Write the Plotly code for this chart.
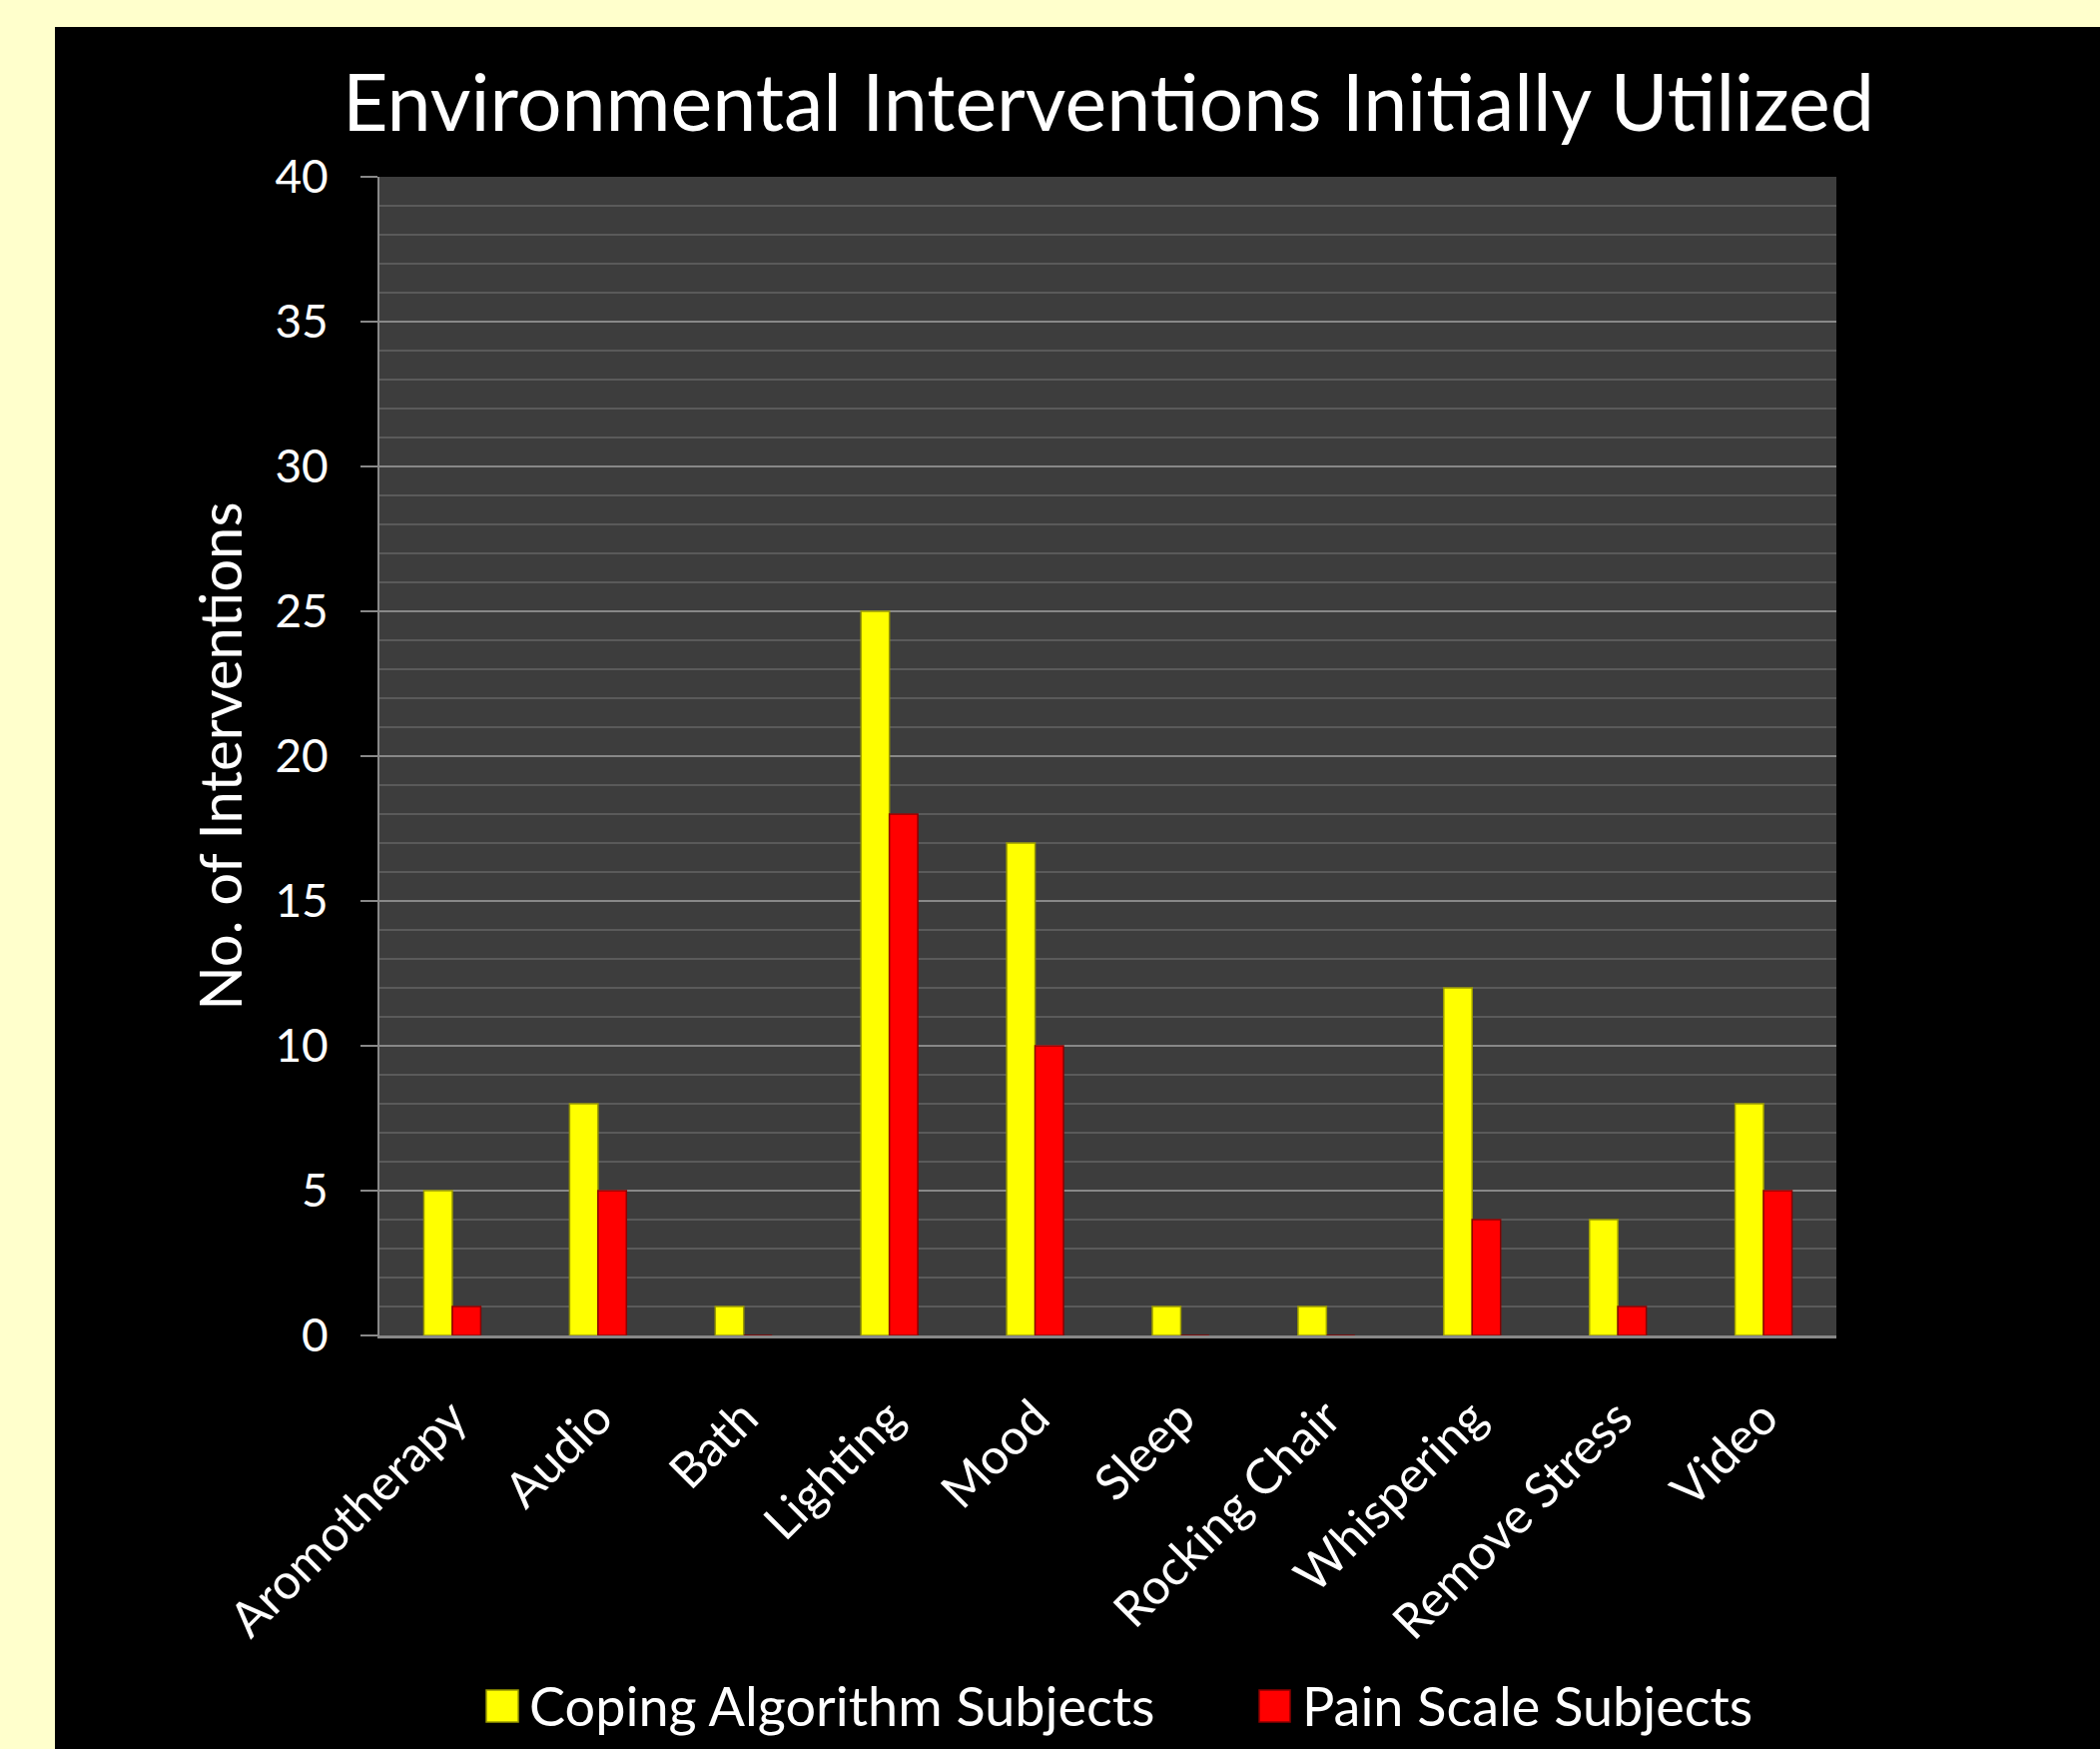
import plotly.graph_objects as go

categories = ["Aromotherapy", "Audio", "Bath", "Lighting", "Mood", "Sleep",
              "Rocking Chair", "Whispering", "Remove Stress", "Video"]
coping = [5, 8, 1, 25, 17, 1, 1, 12, 4, 8]
pain = [1, 5, 0, 18, 10, 0, 0, 4, 1, 5]
series_names = ["Coping Algorithm Subjects", "Pain Scale Subjects"]
y_ticks = [0, 5, 10, 15, 20, 25, 30, 35, 40]

W, H = 2103, 1751
L, R, T, B = 380, 1839, 177, 1337
PW, PH = R - L, B - T


def px(x):
    return (x - L) / PW


def py(y):
    return (B - y) / PH


FONT = "Lato"
fig = go.Figure()
fig.add_trace(go.Bar(x=categories, y=coping, name=series_names[0],
                     marker=dict(color="#FFFF00", line=dict(color="#9a9a00", width=1.5)),
                     showlegend=False))
fig.add_trace(go.Bar(x=categories, y=pain, name=series_names[1],
                     marker=dict(color="#FF0000", line=dict(color="#8a0000", width=1.5)),
                     showlegend=False))

shapes = [
    dict(type="rect", xref="paper", yref="paper", x0=px(55), x1=px(2200), y0=py(1900), y1=py(27),
         fillcolor="#000000", line=dict(width=0), layer="below"),
    dict(type="rect", xref="paper", yref="paper", x0=0, x1=1, y0=0, y1=1,
         fillcolor="#3d3d3d", line=dict(width=0), layer="below"),
    # legend swatches
    dict(type="rect", xref="paper", yref="paper", x0=px(487), x1=px(519), y0=py(1724), y1=py(1692),
         fillcolor="#FFFF00", line=dict(color="#9a9a00", width=1.5)),
    dict(type="rect", xref="paper", yref="paper", x0=px(1261), x1=px(1292), y0=py(1724), y1=py(1692),
         fillcolor="#FF0000", line=dict(color="#8a0000", width=1.5)),
]
annotations = [
    dict(text=series_names[0], xref="paper", yref="paper", x=px(528), y=py(1708),
         xanchor="left", yanchor="middle", showarrow=False,
         font=dict(family=FONT, size=54, color="white")),
    dict(text=series_names[1], xref="paper", yref="paper", x=px(1302), y=py(1708),
         xanchor="left", yanchor="middle", showarrow=False,
         font=dict(family=FONT, size=54, color="white")),
]

fig.update_layout(
    width=W, height=H,
    margin=dict(l=L, r=W - R, t=T, b=H - B, autoexpand=False),
    paper_bgcolor="#FFFFCC",
    plot_bgcolor="#3d3d3d",
    barmode="group", bargap=0.61, bargroupgap=0,
    title=dict(text="Environmental Interventions Initially Utilized",
               x=px(1110), xref="paper", xanchor="center",
               y=1 - 103 / H, yref="container", yanchor="middle",
               font=dict(family=FONT, size=79, color="white")),
    shapes=shapes, annotations=annotations,
    showlegend=False,
)
fig.update_yaxes(range=[0, 40], tickvals=y_ticks, ticktext=[str(v) for v in y_ticks],
                 showgrid=True, gridcolor="#888888", gridwidth=2,
                 minor=dict(dtick=1, showgrid=True, gridcolor="#5a5a5a", gridwidth=2),
                 ticks="outside", ticklen=17, tickcolor="#888888", tickwidth=2,
                 showline=True, linecolor="#888888", linewidth=2,
                 zeroline=False, ticklabelstandoff=23,
                 tickfont=dict(family=FONT, size=46, color="white"),
                 title=dict(text="No. of Interventions", standoff=14,
                            font=dict(family=FONT, size=58, color="white")))
fig.update_xaxes(tickangle=-45, ticks="", showline=True, linecolor="#888888", linewidth=3,
                 showgrid=False, ticklabelstandoff=31,
                 tickfont=dict(family=FONT, size=49, color="white"))

fig.write_html("out.html", config={"displayModeBar": False},
               post_script="document.body.style.margin='0px';document.body.style.overflow='hidden';")
